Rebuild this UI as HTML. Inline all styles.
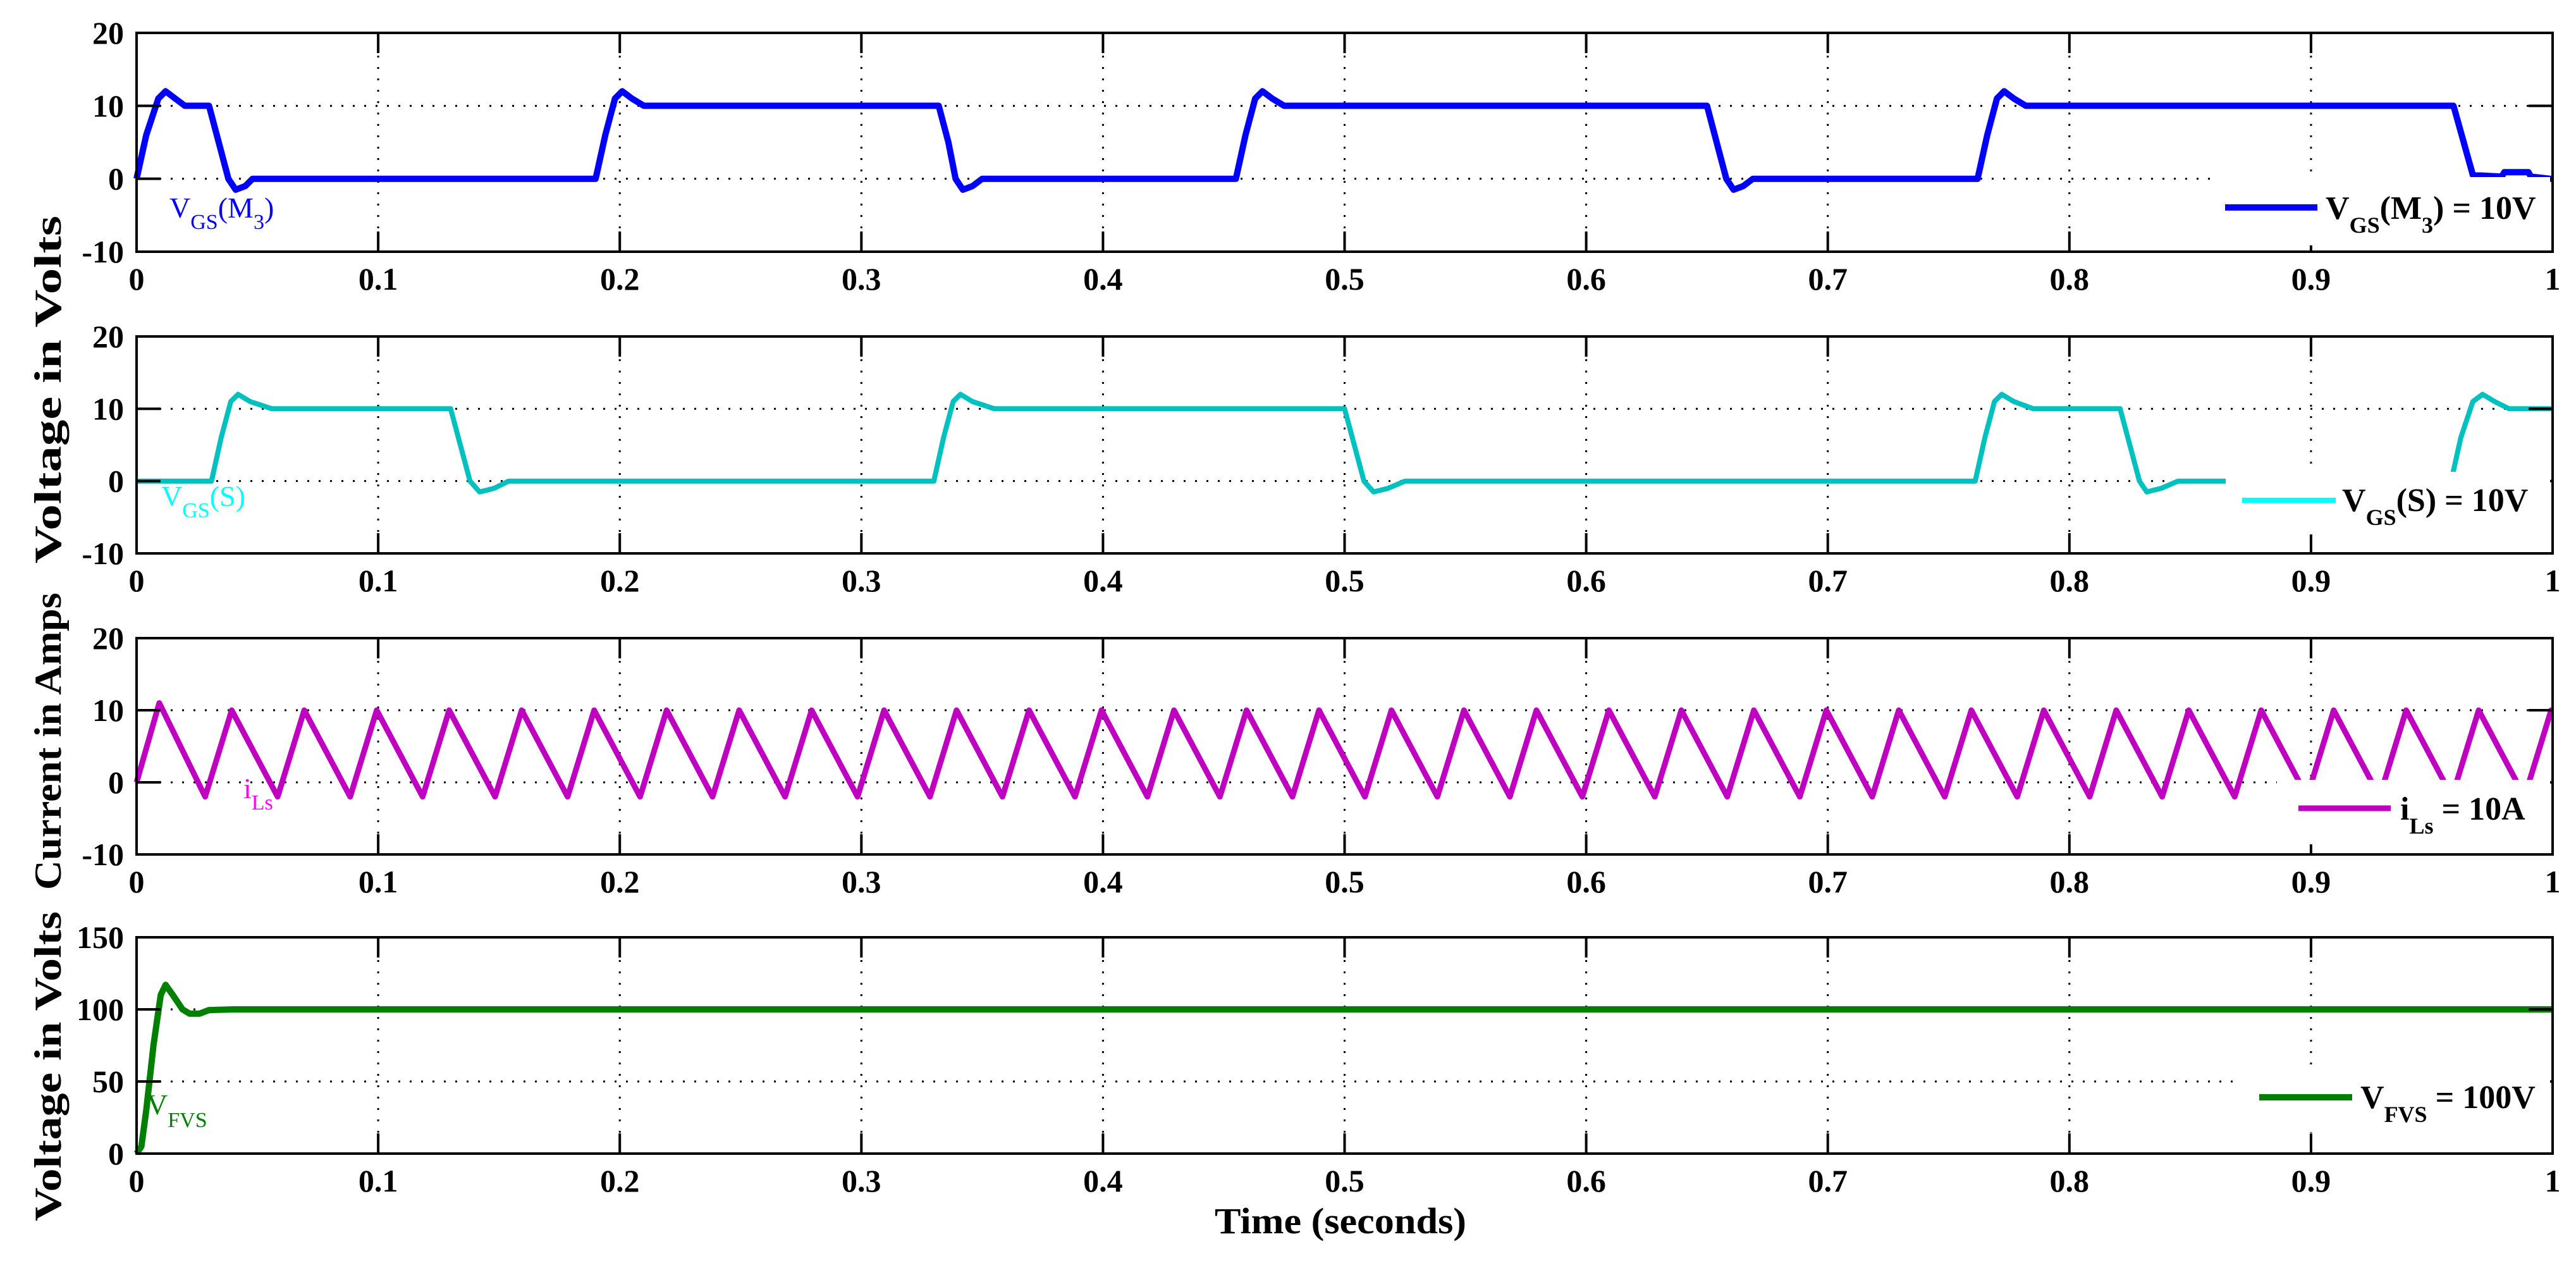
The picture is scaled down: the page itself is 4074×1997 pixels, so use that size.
<!DOCTYPE html>
<html><head><meta charset="utf-8"><style>
html,body{margin:0;padding:0;background:#fff;}
svg{display:block;font-family:"Liberation Serif",serif;}
</style></head><body>
<svg id="chart" width="4074" height="1997" viewBox="0 0 4074 1997" xmlns="http://www.w3.org/2000/svg">
<rect width="4074" height="1997" fill="#fff"/>
<g id="layer"></g>
<g font-weight="bold" font-size="52" fill="#000">
  <text x="3678" y="346">V<tspan font-size="36" dy="22">GS</tspan><tspan dy="-22">(M</tspan><tspan font-size="36" dy="22">3</tspan><tspan dy="-22">) = 10V</tspan></text>
  <text x="3704" y="808">V<tspan font-size="36" dy="22">GS</tspan><tspan dy="-22">(S) = 10V</tspan></text>
  <text x="3796" y="1296">i<tspan font-size="36" dy="22">Ls</tspan><tspan dy="-22"> = 10A</tspan></text>
  <text x="3733" y="1752">V<tspan font-size="36" dy="22">FVS</tspan><tspan dy="-22"> = 100V</tspan></text>
</g>
<g font-size="46">
  <text x="268" y="344" fill="#0000ff">V<tspan font-size="34" dy="18">GS</tspan><tspan dy="-18">(M</tspan><tspan font-size="34" dy="18">3</tspan><tspan dy="-18">)</tspan></text>
  <text x="255" y="800" fill="#00ffff">V<tspan font-size="34" dy="18">GS</tspan><tspan dy="-18">(S)</tspan></text>
  <text x="385" y="1262" fill="#ff00ff">i<tspan font-size="34" dy="18">Ls</tspan></text>
  <text x="232" y="1762" fill="#007f00">V<tspan font-size="34" dy="20">FVS</tspan></text>
</g>
<g font-weight="bold" font-size="60" fill="#000">
  <text transform="translate(96,616) rotate(-90)" text-anchor="middle" textLength="550" lengthAdjust="spacingAndGlyphs">Voltage in Volts</text>
  <text transform="translate(96,1172) rotate(-90)" text-anchor="middle" textLength="470" lengthAdjust="spacingAndGlyphs">Current in Amps</text>
  <text transform="translate(96,1686) rotate(-90)" text-anchor="middle" textLength="490" lengthAdjust="spacingAndGlyphs">Voltage in Volts</text>
  <text x="2120" y="1950" text-anchor="middle" font-size="58" textLength="398" lengthAdjust="spacingAndGlyphs">Time (seconds)</text>
</g>
</svg>
<script>
// ---- data ----
const xTicks = [0,0.1,0.2,0.3,0.4,0.5,0.6,0.7,0.8,0.9,1];
const xTickLabels = ["0","0.1","0.2","0.3","0.4","0.5","0.6","0.7","0.8","0.9","1"];
const vTicks = [-10,0,10,20];
const vTickLabels = ["-10","0","10","20"];
const fvsTicks = [0,50,100,150];
const fvsTickLabels = ["0","50","100","150"];

const blueT = [0,0.004,0.009,0.012,0.016,0.020,0.030,0.034,0.038,0.041,0.045,0.048,0.190,0.194,0.198,0.201,0.205,0.210,0.332,0.336,0.339,0.342,0.346,0.350,0.455,0.459,0.463,0.466,0.470,0.475,0.650,0.654,0.658,0.661,0.665,0.669,0.762,0.766,0.770,0.773,0.777,0.782,0.959,0.967,0.979,0.980,0.990,0.991,0.999,1.0];
const blueV = [0,6,11,12,11,10,10,5,0,-1.5,-1,0,0,6,11,12,11,10,10,5,0,-1.5,-1,0,0,6,11,12,11,10,10,5,0,-1.5,-1,0,0,6,11,12,11,10,10,0.5,0.3,0.9,0.9,0.3,0,0];

const cyanT = [0,0.031,0.035,0.039,0.042,0.047,0.056,0.130,0.134,0.138,0.142,0.148,0.154,0.330,0.334,0.338,0.341,0.346,0.355,0.500,0.504,0.508,0.512,0.518,0.525,0.761,0.765,0.769,0.772,0.777,0.785,0.821,0.825,0.829,0.832,0.838,0.845,0.958,0.962,0.967,0.971,0.976,0.982,1.0];
const cyanV = [0,0,6,11,12,11,10,10,5,0,-1.5,-1,0,0,6,11,12,11,10,10,5,0,-1.5,-1,0,0,6,11,12,11,10,10,5,0,-1.5,-1,0,0,6,11,12,11,10,10];

const iT = [0,0.0094,0.0284,0.0394,0.0584,0.0694,0.0884,0.0994,0.1184,0.1294,0.1484,0.1594,0.1784,0.1894,0.2084,0.2194,0.2384,0.2494,0.2684,0.2794,0.2984,0.3094,0.3284,0.3394,0.3584,0.3694,0.3884,0.3994,0.4184,0.4294,0.4484,0.4594,0.4784,0.4894,0.5084,0.5194,0.5384,0.5494,0.5684,0.5794,0.5984,0.6094,0.6284,0.6394,0.6584,0.6694,0.6884,0.6994,0.7184,0.7294,0.7484,0.7594,0.7784,0.7894,0.8084,0.8194,0.8384,0.8494,0.8684,0.8794,0.8984,0.9094,0.9284,0.9394,0.9584,0.9694,0.9884,0.9994,1.0];
const iV = [0,11,-2,10,-2,10,-2,10,-2,10,-2,10,-2,10,-2,10,-2,10,-2,10,-2,10,-2,10,-2,10,-2,10,-2,10,-2,10,-2,10,-2,10,-2,10,-2,10,-2,10,-2,10,-2,10,-2,10,-2,10,-2,10,-2,10,-2,10,-2,10,-2,10,-2,10,-2,10,-2,10,-2,10,10];

const fvsT = [0,0.002,0.004,0.007,0.010,0.012,0.015,0.019,0.022,0.026,0.030,0.040,1.0];
const fvsV = [0,5,30,75,110,117,110,100,97,97,99.5,100,100];

// ---- layout ----
const X0 = 216, X1 = 4037;
const panels = [
  {top:52, bot:398, min:-10, max:20, ticks:vTicks, labels:vTickLabels, grid:[0,10], T:blueT, V:blueV, color:"#0000ff", sw:10, name:"vgs-m3",
   box:[3495,280,4033,388], leg:{x1:3519,x2:3665,y:328,color:"#0000ff"}},
  {top:532, bot:875, min:-10, max:20, ticks:vTicks, labels:vTickLabels, grid:[0,10], T:cyanT, V:cyanV, color:"#00c0c0", sw:8, name:"vgs-s",
   box:[3520,746,4033,845], leg:{x1:3546,x2:3694,y:791,color:"#00ffff"}},
  {top:1009, bot:1351, min:-10, max:20, ticks:vTicks, labels:vTickLabels, grid:[0,10], T:iT, V:iV, color:"#c000c0", sw:9, name:"i-ls",
   box:[3601,1233,4033,1335], leg:{x1:3635,x2:3781,y:1278,color:"#c000c0"}},
  {top:1482, bot:1824, min:0, max:150, ticks:fvsTicks, labels:fvsTickLabels, grid:[50,100], T:fvsT, V:fvsV, color:"#007f00", sw:10, name:"v-fvs",
   box:[3535,1688,4033,1790], leg:{x1:3573,x2:3720,y:1735,color:"#007f00"}}
];
const NS = "http://www.w3.org/2000/svg";
const layer = document.getElementById("layer");
function mk(tag, attrs, parent){const e=document.createElementNS(NS,tag);for(const k in attrs)e.setAttribute(k,attrs[k]);(parent||layer).appendChild(e);return e;}
function xs(t){return X0+(X1-X0)*t;}

panels.forEach((p,pi)=>{
  const ys = v => p.bot-(p.bot-p.top)*(v-p.min)/(p.max-p.min);
  const g = mk("g",{});
  
  
  xTicks.forEach(t=>{ if(t>0&&t<1){
    const l=mk("line",{x1:xs(t),x2:xs(t),y1:p.top,y2:p.bot,stroke:"#000","stroke-width":3,"stroke-dasharray":"3 15"},g);
    
    
  }});
  p.grid.forEach(v=>{
    const l=mk("line",{x1:X0,x2:X1,y1:ys(v),y2:ys(v),stroke:"#000","stroke-width":3,"stroke-dasharray":"3 15"},g);
    
    
  });
  let pts=[];
  for(let i=0;i<p.T.length;i++){ if(p.V[i]!==null) pts.push(xs(p.T[i]).toFixed(1)+","+ys(p.V[i]).toFixed(1)); }
  const line=mk("polyline",{points:pts.join(" "),fill:"none",stroke:p.color,"stroke-width":p.sw,"stroke-linejoin":"round"},g);
  
  
  xTicks.forEach((t,i)=>{
    if(t>0&&t<1){
      mk("line",{x1:xs(t),x2:xs(t),y1:p.bot,y2:p.bot-32,stroke:"#000","stroke-width":4},g);
      mk("line",{x1:xs(t),x2:xs(t),y1:p.top,y2:p.top+32,stroke:"#000","stroke-width":4},g);
    }
    const tl=mk("text",{x:xs(t),y:p.bot+60,"text-anchor":"middle","font-size":50,"font-weight":"bold"},g);
    tl.textContent=xTickLabels[i];
    
    
  });
  p.ticks.forEach((v,i)=>{
    if(v>p.min&&v<p.max){
      mk("line",{x1:X0,x2:X0+38,y1:ys(v),y2:ys(v),stroke:"#000","stroke-width":4},g);
      mk("line",{x1:X1,x2:X1-38,y1:ys(v),y2:ys(v),stroke:"#000","stroke-width":4},g);
    }
    const tl=mk("text",{x:196,y:ys(v)+17,"text-anchor":"end","font-size":50,"font-weight":"bold"},g);
    tl.textContent=p.labels[i];
    
    
  });
  const lg=mk("g",{},g);
  
  
  mk("rect",{x:p.box[0],y:p.box[1],width:p.box[2]-p.box[0],height:p.box[3]-p.box[1],fill:"#fff"},lg);
  const ls=mk("line",{x1:p.leg.x1,x2:p.leg.x2,y1:p.leg.y,y2:p.leg.y,stroke:p.leg.color,"stroke-width":p.sw},lg);
  
  
  const b=mk("rect",{x:X0,y:p.top,width:X1-X0,height:p.bot-p.top,fill:"none",stroke:"#000","stroke-width":4},g);
  
  
});
</script>
</body></html>
